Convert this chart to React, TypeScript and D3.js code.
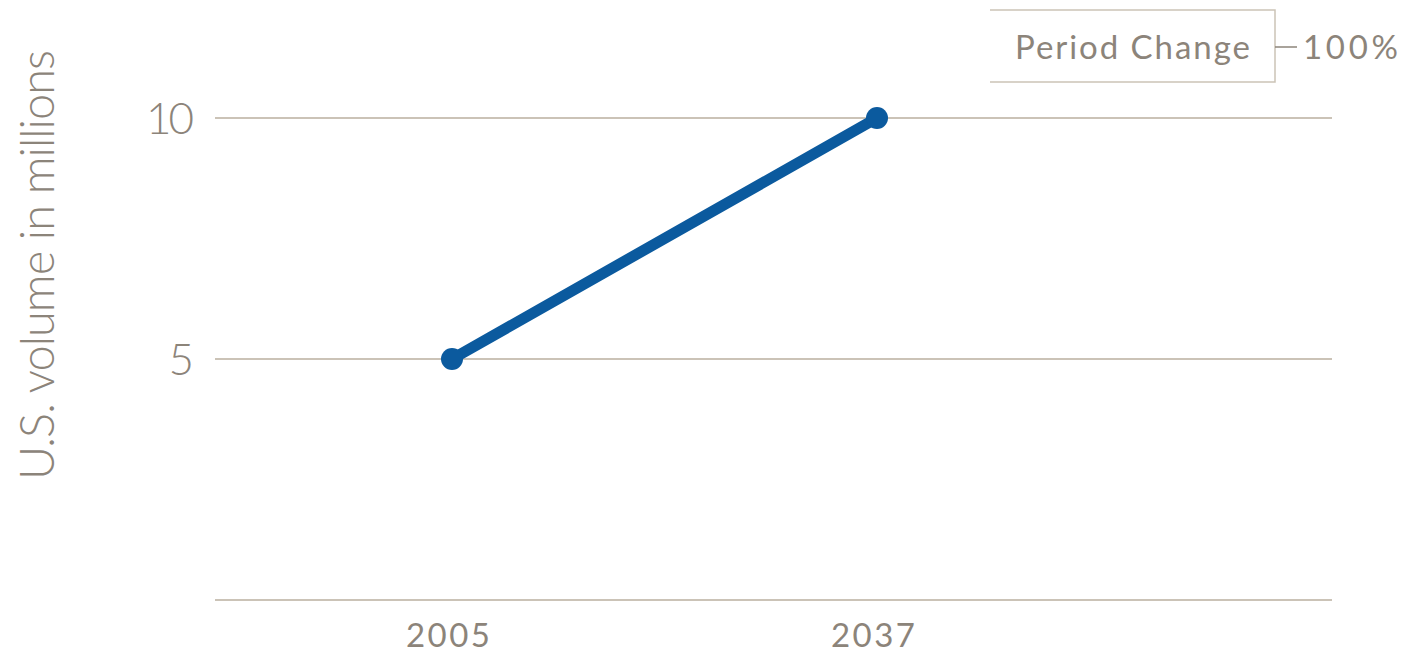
import React from "react";
import * as d3 from "d3";

const years = ["2005", "2037"];
const volumes = [5, 10];
const yTicks = [0, 5, 10];
const yTickLabels = ["", "5", "10"];
const yAxisTitle = "U.S. volume in millions";
const legendLabel = "Period Change";
const legendValue = "100%";

const W = 1408;
const H = 655;
const FONT = "Lato, 'Open Sans', sans-serif";
const TEXT = "#8c847a";
const GRID = "#cbc3b7";
const BLUE = "#0b5a9e";

export default function App() {
  const x = d3.scalePoint<string>().domain(years).range([452, 877]);
  const y = d3.scaleLinear().domain([0, 10]).range([600, 118]);
  const line = d3
    .line<number>()
    .x((_, i) => x(years[i]) as number)
    .y((d) => y(d));

  return (
    <svg width={W} height={H} style={{ position: "absolute", left: 0, top: 0, background: "#fff" }}>
      {yTicks.map((t, i) => (
        <g key={t}>
          <line x1={215} x2={1332} y1={y(t)} y2={y(t)} stroke={GRID} strokeWidth={2} />
          {yTickLabels[i] && (
            <text x={191} y={y(t)} dy="0.36em" textAnchor="end" fontFamily={FONT} fontSize={44} fontWeight={300} fill={TEXT} letterSpacing={-3}>
              {yTickLabels[i]}
            </text>
          )}
        </g>
      ))}
      <text
        transform={`translate(54, 265) rotate(-90)`}
        textAnchor="middle"
        fontFamily={FONT}
        fontSize={47}
        fontWeight={300}
        fill={TEXT}
        textLength={430}
      >
        {yAxisTitle}
      </text>
      {years.map((yr) => (
        <text key={yr} x={(x(yr) as number) - 4} y={647} textAnchor="middle" fontFamily={FONT} fontSize={33} fill={TEXT} textLength={84}>
          {yr}
        </text>
      ))}
      <path d={line(volumes) || ""} fill="none" stroke={BLUE} strokeWidth={11} strokeLinecap="round" />
      {volumes.map((v, i) => (
        <circle key={i} cx={x(years[i]) as number} cy={y(v)} r={11} fill={BLUE} />
      ))}
      <g>
        <polyline points="990,10 1275,10 1275,82 990,82" fill="none" stroke={GRID} strokeWidth={1.5} />
        <line x1={1275} x2={1297} y1={47} y2={47} stroke={TEXT} strokeWidth={1.5} />
        <text x={1015} y={47} dy="0.36em" textAnchor="start" fontFamily={FONT} fontSize={33} fill={TEXT} textLength={235}>
          {legendLabel}
        </text>
        <text x={1303} y={47} dy="0.36em" textAnchor="start" fontFamily={FONT} fontSize={33} fill={TEXT} textLength={95}>
          {legendValue}
        </text>
      </g>
    </svg>
  );
}
